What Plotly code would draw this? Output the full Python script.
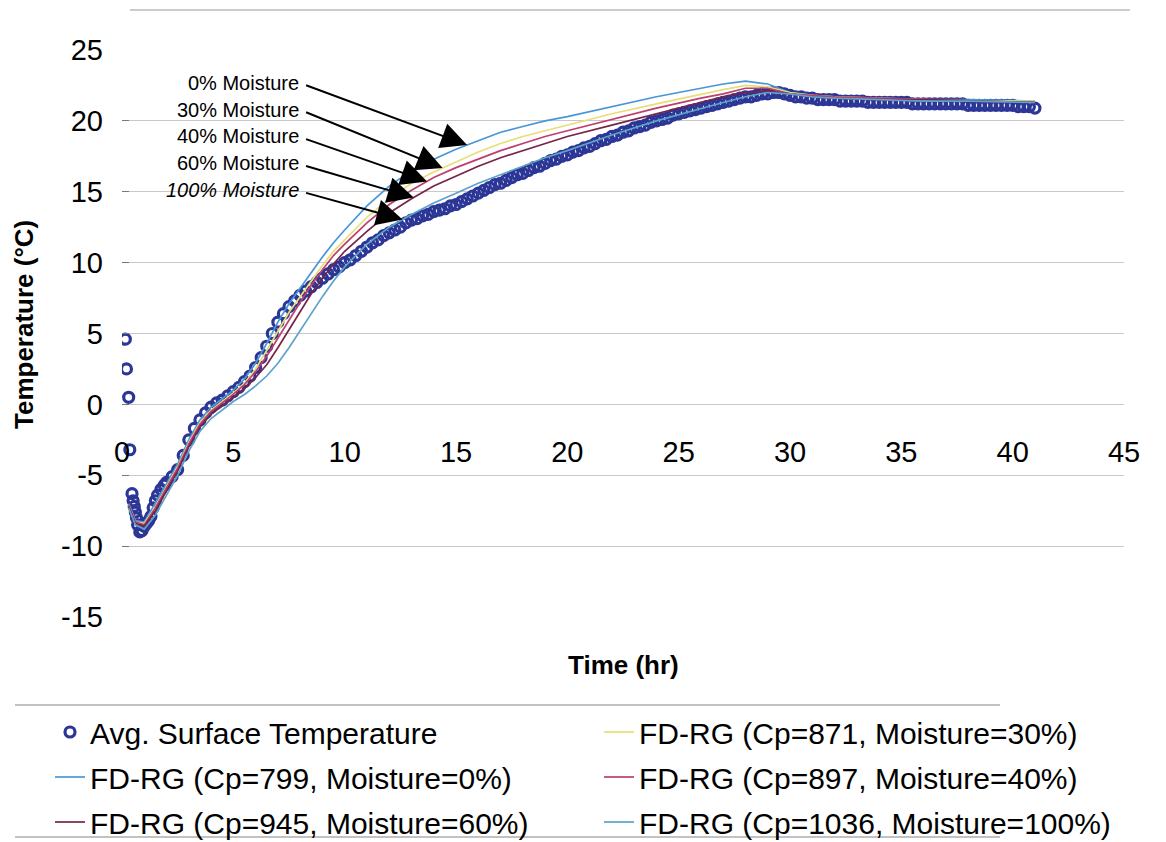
import numpy as np
import plotly.graph_objects as go

# ---------------- data ----------------
avg_time = [0.15, 0.2, 0.3, 0.35, 0.45, 0.5, 0.55, 0.6, 0.65, 0.7, 0.8, 0.9, 1.0, 1.1, 1.2, 1.3,
            1.4, 1.5, 1.6, 1.75, 1.9, 2.0, 2.25, 2.5, 2.75, 3.0, 3.25, 3.5, 3.75, 4.0,
            4.25, 4.5, 4.75, 5.0, 5.25, 5.5, 5.75, 6.0, 6.25, 6.5, 6.75, 7.0, 7.25, 7.5, 7.75, 8.0,
            8.25, 8.5, 8.75, 9.0, 9.25, 9.5, 9.75, 10.0, 10.25, 10.5, 10.75, 11.0, 11.25, 11.5, 11.75, 12.0,
            12.25, 12.5, 12.75, 13.0, 13.25, 13.5, 13.75, 14.0, 14.25, 14.5, 14.75, 15.0, 15.25, 15.5, 15.75, 16.0,
            16.25, 16.5, 16.75, 17.0, 17.25, 17.5, 17.75, 18.0, 18.25, 18.5, 18.75, 19.0, 19.25, 19.5, 19.75, 20.0,
            20.25, 20.5, 20.75, 21.0, 21.25, 21.5, 21.75, 22.0, 22.25, 22.5, 22.75, 23.0, 23.25, 23.5, 23.75, 24.0,
            24.25, 24.5, 24.75, 25.0, 25.25, 25.5, 25.75, 26.0, 26.25, 26.5, 26.75, 27.0, 27.25, 27.5, 27.75, 28.0,
            28.25, 28.5, 28.75, 29.0, 29.25, 29.5, 29.75, 30.0, 30.25, 30.5, 30.75, 31.0, 31.25, 31.5, 31.75, 32.0,
            32.25, 32.5, 32.75, 33.0, 33.25, 33.5, 33.75, 34.0, 34.25, 34.5, 34.75, 35.0, 35.25, 35.5, 35.75, 36.0,
            36.25, 36.5, 36.75, 37.0, 37.25, 37.5, 37.75, 38.0, 38.25, 38.5, 38.75, 39.0, 39.25, 39.5, 39.75, 40.0,
            40.25, 40.5, 40.75, 41.0]
avg_temp = [4.6, 2.5, 0.5, -3.2, -6.3, -6.8, -7.2, -7.6, -8.0, -8.5, -9.0, -8.9, -8.6, -8.4, -8.2, -7.9,
            -7.3, -6.8, -6.4, -6.0, -5.7, -5.5, -5.1, -4.6, -3.6, -2.5, -1.7, -1.1, -0.6, -0.2,
            0.1, 0.3, 0.6, 0.9, 1.2, 1.6, 2.0, 2.6, 3.3, 4.1, 5.0, 5.8, 6.4, 6.9, 7.3, 7.7,
            8.0, 8.3, 8.6, 8.9, 9.2, 9.5, 9.7, 10.0, 10.2, 10.5, 10.8, 11.1, 11.4, 11.6, 11.9, 12.1,
            12.3, 12.5, 12.8, 13.0, 13.1, 13.3, 13.4, 13.6, 13.7, 13.8, 14.0, 14.1, 14.3, 14.5, 14.7, 14.9,
            15.1, 15.3, 15.5, 15.6, 15.8, 16.0, 16.2, 16.3, 16.5, 16.7, 16.8, 17.0, 17.2, 17.3, 17.5, 17.6,
            17.8, 17.9, 18.1, 18.2, 18.4, 18.6, 18.7, 18.9, 19.0, 19.2, 19.3, 19.5, 19.6, 19.7, 19.9, 20.0,
            20.1, 20.2, 20.4, 20.5, 20.6, 20.7, 20.8, 20.9, 21.0, 21.1, 21.2, 21.3, 21.4, 21.5, 21.6, 21.7,
            21.7, 21.8, 21.9, 21.9, 22.0, 22.0, 21.9, 21.8, 21.7, 21.7, 21.6, 21.6, 21.5, 21.5, 21.5, 21.5,
            21.4, 21.4, 21.4, 21.4, 21.4, 21.3, 21.3, 21.3, 21.3, 21.3, 21.3, 21.3, 21.3, 21.2, 21.2, 21.2,
            21.2, 21.2, 21.2, 21.2, 21.2, 21.2, 21.2, 21.1, 21.1, 21.1, 21.1, 21.1, 21.1, 21.1, 21.1, 21.1,
            21.0, 21.0, 21.0, 20.9]

model_time = [0.3, 0.6, 1.0, 1.5, 2.0, 2.5, 3.0, 3.5, 4.0, 4.5,
              5.0, 5.5, 6.0, 6.5, 7.0, 7.5, 8.0, 8.5, 9.0, 9.5,
              10, 11, 12, 13, 14, 15, 16, 17, 18, 19,
              20, 22, 24, 26, 27, 28, 29, 30, 31, 32,
              34, 36, 38, 41]
fd_m0 = [-7.0, -8.2, -8.3, -7.0, -5.6, -4.2, -2.5, -1.1, -0.2, 0.4,
         1.0, 1.8, 2.9, 4.3, 5.8, 7.1, 8.2, 9.3, 10.4, 11.4,
         12.3, 14.0, 15.4, 16.5, 17.3, 18.0, 18.6, 19.2, 19.6, 20.0,
         20.3, 21.0, 21.7, 22.3, 22.6, 22.8, 22.6, 22.0, 21.8, 21.7,
         21.6, 21.5, 21.5, 21.4]
fd_m30 = [-7.1, -8.3, -8.4, -7.2, -5.8, -4.4, -2.7, -1.3, -0.4, 0.2,
          0.8, 1.5, 2.5, 3.8, 5.2, 6.5, 7.6, 8.7, 9.8, 10.8,
          11.6, 13.2, 14.5, 15.6, 16.4, 17.1, 17.8, 18.4, 18.9, 19.3,
          19.7, 20.5, 21.2, 21.9, 22.2, 22.5, 22.4, 22.0, 21.8, 21.7,
          21.6, 21.5, 21.4, 21.4]
fd_m40 = [-7.1, -8.3, -8.5, -7.3, -5.9, -4.5, -2.8, -1.4, -0.5, 0.1,
          0.7, 1.4, 2.3, 3.4, 4.7, 6.0, 7.2, 8.4, 9.5, 10.5,
          11.3, 12.8, 14.1, 15.1, 16.0, 16.7, 17.3, 17.9, 18.4, 18.9,
          19.3, 20.1, 20.9, 21.6, 21.9, 22.3, 22.3, 21.9, 21.8, 21.7,
          21.6, 21.5, 21.4, 21.3]
fd_m60 = [-7.2, -8.4, -8.6, -7.5, -6.1, -4.7, -3.0, -1.6, -0.7, -0.1,
          0.5, 1.1, 1.9, 2.8, 4.0, 5.3, 6.6, 7.8, 8.9, 9.9,
          10.8, 12.2, 13.5, 14.5, 15.4, 16.1, 16.8, 17.4, 17.9, 18.4,
          18.9, 19.7, 20.5, 21.3, 21.7, 22.0, 22.1, 21.9, 21.7, 21.6,
          21.5, 21.5, 21.4, 21.3]
fd_m100 = [-7.3, -8.5, -8.8, -7.8, -6.4, -5.0, -3.3, -1.9, -1.0, -0.4,
           0.2, 0.7, 1.3, 2.0, 2.9, 4.0, 5.2, 6.4, 7.6, 8.7,
           9.7, 11.3, 12.5, 13.4, 14.2, 14.9, 15.6, 16.2, 16.8, 17.4,
           17.9, 19.0, 20.0, 20.9, 21.3, 21.7, 22.0, 21.9, 21.7, 21.6,
           21.5, 21.4, 21.4, 21.3]

avg_name = "Avg. Surface Temperature"
model_names = ["FD-RG (Cp=799, Moisture=0%)", "FD-RG (Cp=871, Moisture=30%)",
               "FD-RG (Cp=897, Moisture=40%)", "FD-RG (Cp=945, Moisture=60%)",
               "FD-RG (Cp=1036, Moisture=100%)"]
model_series = [fd_m0, fd_m30, fd_m40, fd_m60, fd_m100]
model_legend = ["legend", "legend2", "legend2", "legend", "legend2"]

label_texts = ["0% Moisture", "30% Moisture", "40% Moisture", "60% Moisture", "<i>100% Moisture</i>"]
label_temps = [22.7, 20.8, 18.9, 17.0, 15.1]
label_time = 8.05
arrow_tail_time = 8.2
arrow_times = [15.5, 14.4, 13.7, 13.1, 12.6]

x_ticks = [0, 5, 10, 15, 20, 25, 30, 35, 40, 45]
y_ticks = [-15, -10, -5, 0, 5, 10, 15, 20, 25]
y_tick_text = ["-15", "-10", "-5", "0", "5", "10", "15", "20", "25"]

# ---------------- styles ----------------
FONT = "Liberation Sans, Arial, Helvetica, sans-serif"
AVG_COLOR = "rgb(44,54,150)"
MODEL_COLORS = ["rgb(72,150,215)", "rgb(232,222,120)", "rgb(190,62,110)",
                "rgb(118,36,72)", "rgb(92,162,202)"]

# the page body has an 8px margin: the figure is sized so that the plot area
# lands on the reference's pixel positions (x 122..1124, y 50..617 of the page)
OFF = 8
W, H = 1166 - OFF, 842 - OFF
PL, PR, PT, PB = 122, 1124, 50, 617          # plot area in page pixels
ML, MT = PL - OFF, PT - OFF
MR = W - ML - (PR - PL)
MB = H - MT - (PB - PT)
PH = PB - PT
PW = PR - PL


def py(ypix):
    return (PB - ypix) / PH


def px(xpix):
    return (xpix - PL) / PW


fig = go.Figure()

fig.add_trace(go.Scatter(
    x=avg_time, y=avg_temp, mode="markers", name=avg_name,
    marker=dict(symbol="circle-open", size=10, color=AVG_COLOR,
                line=dict(width=3.2, color=AVG_COLOR)),
    legend="legend", legendgroup="g0",
))

for i, (nm, ser, col, lg) in enumerate(zip(model_names, model_series, MODEL_COLORS, model_legend)):
    fig.add_trace(go.Scatter(
        x=model_time, y=ser, mode="lines", name=nm,
        line=dict(color=col, width=1.7),
        legend=lg, legendgroup=f"g{i+1}",
    ))

# labels and arrows
for txt, lt, at, ser in zip(label_texts, label_temps, arrow_times, model_series):
    head_y = float(np.interp(at, model_time, ser))
    fig.add_annotation(x=label_time, y=lt, text=txt, showarrow=False,
                       xanchor="right", yanchor="middle",
                       font=dict(family=FONT, size=20, color="black"))
    fig.add_annotation(x=at, y=head_y, ax=arrow_tail_time, ay=lt - 0.15,
                       axref="x", ayref="y", text="", showarrow=True,
                       arrowhead=2, arrowsize=2.6, arrowwidth=2.0,
                       arrowcolor="black", standoff=0)

# axis titles
fig.add_annotation(x=0.5, y=py(665), xref="paper", yref="paper", text="<b>Time (hr)</b>",
                   showarrow=False, xanchor="center", yanchor="middle",
                   font=dict(family=FONT, size=26, color="black"))
fig.add_annotation(x=px(24), y=py(325), xref="paper", yref="paper",
                   text="<b>Temperature (°C)</b>", textangle=-90,
                   showarrow=False, xanchor="center", yanchor="middle",
                   font=dict(family=FONT, size=26, color="black"))

# legend frame lines and chart frame line
for yy in (705, 837):
    fig.add_shape(type="line", xref="paper", yref="paper", x0=px(15), x1=px(1000),
                  y0=py(yy), y1=py(yy), line=dict(color="rgba(140,140,140,0.7)", width=1.5))
fig.add_shape(type="line", xref="paper", yref="paper", x0=px(130), x1=px(1130),
              y0=py(10), y1=py(10), line=dict(color="rgba(140,140,140,0.6)", width=1.5))

legend_common = dict(orientation="v", xanchor="left", yanchor="top",
                     font=dict(family=FONT, size=30, color="black"),
                     bgcolor="rgba(0,0,0,0)", tracegroupgap=3, itemwidth=30)

fig.update_layout(
    width=W, height=H,
    margin=dict(l=ML, r=MR, t=MT, b=MB, autoexpand=False),
    plot_bgcolor="white", paper_bgcolor="white",
    font=dict(family=FONT, color="black"),
    showlegend=True,
    legend=dict(x=px(50), y=py(706), **legend_common),
    legend2=dict(x=px(599), y=py(706), **legend_common),
    xaxis=dict(range=[0, 45], tickvals=x_ticks, showgrid=False, zeroline=False,
               showline=False, anchor="free", position=15 / 40,
               ticks="", ticklabelstandoff=28,
               tickfont=dict(family=FONT, size=29, color="black")),
    yaxis=dict(range=[-15, 25], tickvals=y_ticks, ticktext=y_tick_text, showgrid=True,
               gridcolor="rgb(200,200,200)", gridwidth=1, zeroline=False,
               showline=False, ticks="inside", ticklen=7, tickcolor="rgb(120,120,120)",
               ticklabelstandoff=18,
               tickfont=dict(family=FONT, size=29, color="black")),
)

fig.write_html("out.html")
